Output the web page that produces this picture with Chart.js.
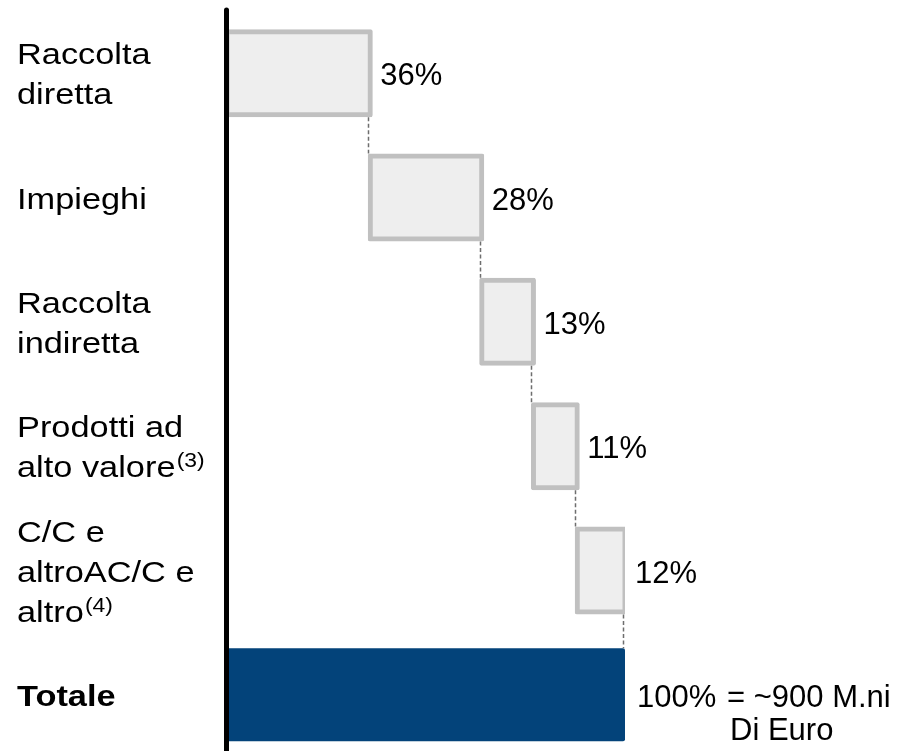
<!DOCTYPE html>
<html>
<head>
<meta charset="utf-8">
<script src="https://cdn.jsdelivr.net/npm/chart.js@4"></script>
<style>
html,body{margin:0;padding:0;background:#fff;overflow:hidden;}
#wrap{width:916px;height:751px;overflow:hidden;position:relative;}
canvas{display:block;}
</style>
</head>
<body>
<div id="wrap"><canvas id="c" width="916" height="760"></canvas></div>
<script>
const categories = [
  ["Raccolta", "diretta"],
  ["Impieghi"],
  ["Raccolta", "indiretta"],
  ["Prodotti ad", "alto valore"],
  ["C/C e", "altroAC/C e", "altro"],
  ["Totale"]
];
const footnotes = ["", "", "", "(3)", "(4)", ""];
const shares = [36, 28, 13, 11, 12];
const total = 100;
const totalNote = ["= ~900 M.ni", "Di Euro"];

// floating segments built from shares
const steps = [];
let acc = 0;
shares.forEach(v => { steps.push([acc, acc + v]); acc += v; });
steps.push(null);
const totalData = shares.map(() => null).concat([[0, total]]);

const FONT = "'Liberation Sans', Arial, Helvetica, sans-serif";
const INFL = 2.5;

const overlay = {
  id: 'overlay',
  afterDraw(chart) {
    const ctx = chart.ctx;
    const area = chart.chartArea;
    const yScale = chart.scales.y;
    const m0 = chart.getDatasetMeta(0).data;
    const m1 = chart.getDatasetMeta(1).data;

    // axis line
    ctx.save();
    ctx.strokeStyle = '#000';
    ctx.lineWidth = 5;
    ctx.lineCap = 'round';
    ctx.beginPath();
    ctx.moveTo(area.left - 0.5, area.top - 1);
    ctx.lineTo(area.left - 0.5, area.bottom + 5);
    ctx.stroke();
    ctx.restore();

    // dashed connectors
    ctx.save();
    ctx.strokeStyle = '#6e6e6e';
    ctx.lineWidth = 1.5;
    ctx.setLineDash([4, 2.5]);
    for (let i = 0; i < shares.length; i++) {
      const a = m0[i];
      const last = i + 1 >= shares.length;
      const b = last ? m1[shares.length] : m0[i + 1];
      const x = Math.round(a.x) - 1.5;
      ctx.beginPath();
      ctx.moveTo(x, a.y + a.height / 2 + INFL);
      ctx.lineTo(x, b.y - b.height / 2 - (last ? 0 : INFL));
      ctx.stroke();
    }
    ctx.restore();

    // category labels (left), positioned by the y scale
    ctx.save();
    ctx.fillStyle = '#000';
    ctx.textAlign = 'left';
    ctx.textBaseline = 'alphabetic';
    const sx = 1.145, lh = 40, x0 = 17;
    categories.forEach((lines, i) => {
      const yc = yScale.getPixelForValue(i);
      const bold = i === categories.length - 1;
      const n = lines.length;
      lines.forEach((txt, j) => {
        const base = yc + (j - (n - 1) / 2) * lh + 11;
        ctx.save();
        ctx.translate(x0, base);
        ctx.scale(sx, 1);
        ctx.font = (bold ? 'bold ' : '') + '30px ' + FONT;
        ctx.fillText(txt, 0, 0);
        const w = ctx.measureText(txt).width;
        if (j === n - 1 && footnotes[i]) {
          ctx.font = '20px ' + FONT;
          ctx.fillText(footnotes[i], w + 1, -10);
        }
        ctx.restore();
      });
    });
    ctx.restore();

    // value labels
    ctx.save();
    ctx.fillStyle = '#000';
    ctx.font = '31px ' + FONT;
    ctx.textAlign = 'left';
    ctx.textBaseline = 'alphabetic';
    for (let i = 0; i < shares.length; i++) {
      const el = m0[i];
      ctx.fillText(shares[i] + '%', el.x + 10, el.y + 12);
    }
    const t = m1[shares.length];
    ctx.fillText(total + '%', t.x + 12, t.y + 12.5);
    ctx.fillText(totalNote[0], t.x + 102, t.y + 12.5);
    ctx.fillText(totalNote[1], t.x + 105, t.y + 45.5);
    ctx.restore();
  }
};

new Chart(document.getElementById('c'), {
  type: 'bar',
  data: {
    labels: categories,
    datasets: [
      {
        data: steps,
        backgroundColor: '#eeeeee',
        borderColor: '#c0c0c0',
        borderWidth: 5,
        borderSkipped: false,
        borderRadius: 2,
        inflateAmount: INFL,
        grouped: false,
        barPercentage: 0.668,
        categoryPercentage: 1
      },
      {
        data: totalData,
        backgroundColor: '#03437a',
        borderWidth: 0,
        borderRadius: 2,
        grouped: false,
        barPercentage: 0.748,
        categoryPercentage: 1
      }
    ]
  },
  options: {
    indexAxis: 'y',
    responsive: false,
    animation: false,
    events: [],
    layout: { padding: { left: 18, right: 291, top: 11, bottom: 3 } },
    plugins: { legend: { display: false }, tooltip: { enabled: false } },
    scales: {
      x: { display: false, min: 0, max: 100 },
      y: {
        grid: { display: false, drawTicks: false },
        border: { display: false },
        ticks: { display: false },
        afterFit(s) { s.width = 209; s.paddingTop = 0; s.paddingBottom = 0; }
      }
    }
  },
  plugins: [overlay]
});
</script>
</body>
</html>
